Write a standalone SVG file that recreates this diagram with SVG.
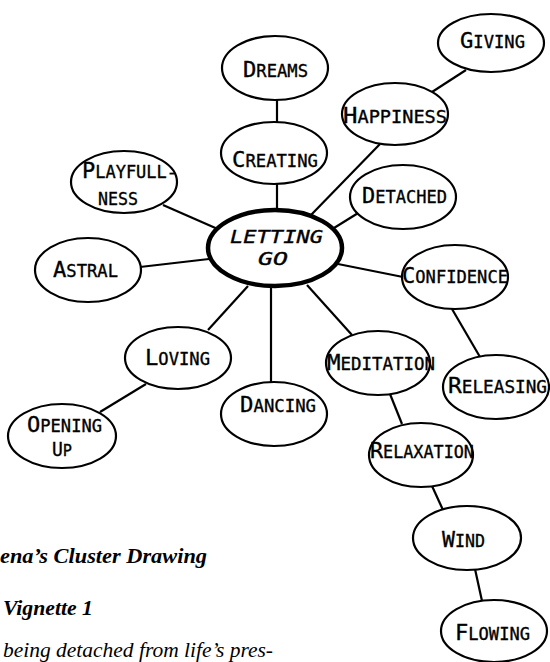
<svg xmlns="http://www.w3.org/2000/svg" width="550" height="662" viewBox="0 0 550 662">
<style>
.n ellipse{fill:#fff;stroke:#000;stroke-width:2.2}
.c line{stroke:#000;stroke-width:2.2}
.t{font-family:"DejaVu Sans Mono","Liberation Mono",monospace;font-size:17px;fill:#000;stroke:#000;stroke-width:0.35}
.b{font-size:22px}
.cap{font-family:"Liberation Serif","DejaVu Serif",serif;font-style:italic;fill:#000}
</style>
<rect width="550" height="662" fill="#fff"/>
<g class="c" id="connectors">
<line x1="277" y1="99" x2="277" y2="123"/>
<line x1="277" y1="183" x2="277" y2="211"/>
<line x1="163" y1="205" x2="220" y2="230"/>
<line x1="432" y1="92" x2="466" y2="70"/>
<line x1="380" y1="144" x2="311" y2="215"/>
<line x1="363" y1="210" x2="334" y2="228"/>
<line x1="140" y1="267" x2="209" y2="259"/>
<line x1="338" y1="264" x2="403" y2="277"/>
<line x1="208" y1="330" x2="248" y2="286"/>
<line x1="271" y1="287" x2="271" y2="383"/>
<line x1="307" y1="285" x2="352" y2="335"/>
<line x1="452" y1="309" x2="480" y2="357"/>
<line x1="100" y1="412" x2="146" y2="384"/>
<line x1="390" y1="394" x2="402" y2="424"/>
<line x1="432" y1="486" x2="443" y2="510"/>
<line x1="475" y1="569" x2="482" y2="601"/>
</g>
<g class="n" id="dreams"><ellipse cx="275" cy="68" rx="53" ry="32"/><text class="t" x="243" y="77" textLength="65" lengthAdjust="spacingAndGlyphs"><tspan class="b">D</tspan>REAMS</text></g>
<g class="n" id="creating"><ellipse cx="274" cy="153" rx="53" ry="31"/><text class="t" x="232" y="167" textLength="86" lengthAdjust="spacingAndGlyphs"><tspan class="b">C</tspan>REATING</text></g>
<g class="n" id="playfullness"><ellipse cx="124" cy="182" rx="53" ry="31"/><text class="t" x="82" y="178" textLength="95" lengthAdjust="spacingAndGlyphs"><tspan class="b">P</tspan>LAYFULL-</text><text class="t" x="98" y="205" textLength="40" lengthAdjust="spacingAndGlyphs">NESS</text></g>
<g class="n" id="giving"><ellipse cx="491" cy="43" rx="53" ry="29"/><text class="t" x="460" y="48" textLength="65" lengthAdjust="spacingAndGlyphs"><tspan class="b">G</tspan>IVING</text></g>
<g class="n" id="happiness"><ellipse cx="395" cy="114" rx="53" ry="31"/><text class="t" x="343" y="123" textLength="104" lengthAdjust="spacingAndGlyphs"><tspan class="b">H</tspan>APPINESS</text></g>
<g class="n" id="detached"><ellipse cx="403" cy="197" rx="53" ry="32"/><text class="t" x="362" y="203" textLength="85" lengthAdjust="spacingAndGlyphs"><tspan class="b">D</tspan>ETACHED</text></g>
<g class="n" id="letting-go"><ellipse cx="275" cy="248" rx="67" ry="38" style="stroke-width:4.5"/><text class="t" x="230" y="243" textLength="93" lengthAdjust="spacingAndGlyphs" style="font-style:italic;font-size:18px">LETTING</text><text class="t" x="258" y="265" textLength="30" lengthAdjust="spacingAndGlyphs" style="font-style:italic;font-size:18px">GO</text></g>
<g class="n" id="astral"><ellipse cx="88" cy="270" rx="53" ry="32"/><text class="t" x="53" y="277" textLength="65" lengthAdjust="spacingAndGlyphs"><tspan class="b">A</tspan>STRAL</text></g>
<g class="n" id="confidence"><ellipse cx="455" cy="277" rx="53" ry="32"/><text class="t" x="402" y="283" textLength="106" lengthAdjust="spacingAndGlyphs"><tspan class="b">C</tspan>ONFIDENCE</text></g>
<g class="n" id="loving"><ellipse cx="178" cy="358" rx="53" ry="31"/><text class="t" x="145" y="365" textLength="65" lengthAdjust="spacingAndGlyphs"><tspan class="b">L</tspan>OVING</text></g>
<g class="n" id="meditation"><ellipse cx="378" cy="363" rx="52" ry="32"/><text class="t" x="327" y="370" textLength="108" lengthAdjust="spacingAndGlyphs"><tspan class="b">M</tspan>EDITATION</text></g>
<g class="n" id="releasing"><ellipse cx="496" cy="387" rx="53" ry="32"/><text class="t" x="448" y="393" textLength="99" lengthAdjust="spacingAndGlyphs"><tspan class="b">R</tspan>ELEASING</text></g>
<g class="n" id="dancing"><ellipse cx="274" cy="414" rx="53" ry="32"/><text class="t" x="240" y="412" textLength="76" lengthAdjust="spacingAndGlyphs"><tspan class="b">D</tspan>ANCING</text></g>
<g class="n" id="opening-up"><ellipse cx="62" cy="436" rx="54" ry="32"/><text class="t" x="27" y="432" textLength="75" lengthAdjust="spacingAndGlyphs"><tspan class="b">O</tspan>PENING</text><text class="t" x="52" y="456" textLength="20" lengthAdjust="spacingAndGlyphs" style="font-size:16px"><tspan style="font-size:19px">U</tspan>P</text></g>
<g class="n" id="relaxation"><ellipse cx="421" cy="455" rx="52" ry="32"/><text class="t" x="370" y="458" textLength="104" lengthAdjust="spacingAndGlyphs"><tspan class="b">R</tspan>ELAXATION</text></g>
<g class="n" id="wind"><ellipse cx="467" cy="538" rx="54" ry="32"/><text class="t" x="442" y="547" textLength="43" lengthAdjust="spacingAndGlyphs"><tspan class="b">W</tspan>IND</text></g>
<g class="n" id="flowing"><ellipse cx="494" cy="631" rx="53" ry="31"/><text class="t" x="455" y="640" textLength="75" lengthAdjust="spacingAndGlyphs"><tspan class="b">F</tspan>LOWING</text></g>
<text class="cap" x="0" y="563" font-size="21" font-weight="bold" textLength="207" lengthAdjust="spacingAndGlyphs">ena’s Cluster Drawing</text>
<text class="cap" x="3" y="615" font-size="21" font-weight="bold" textLength="90" lengthAdjust="spacingAndGlyphs">Vignette 1</text>
<text class="cap" x="3" y="657" font-size="20" textLength="270" lengthAdjust="spacingAndGlyphs">being detached from life’s pres-</text>
</svg>
